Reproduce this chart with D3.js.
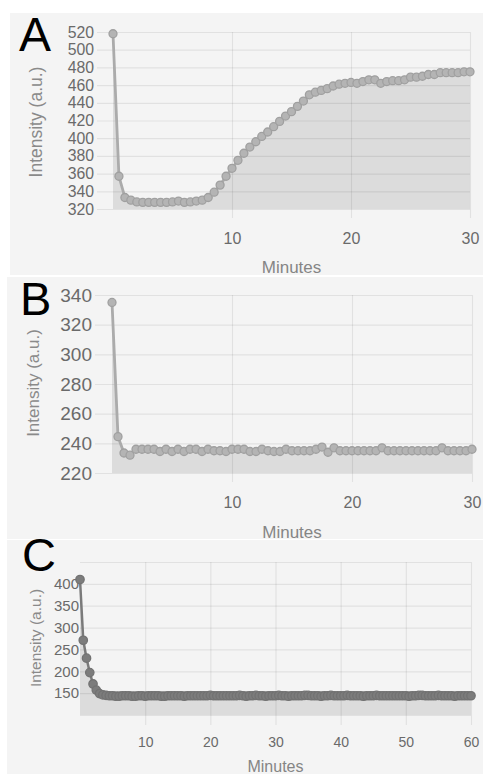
<!DOCTYPE html>
<html>
<head>
<meta charset="utf-8">
<script src="https://cdn.jsdelivr.net/npm/d3@7"></script>
<style>
  html, body { margin: 0; padding: 0; background: #ffffff; }
  svg { display: block; }
  .tick text { font-family: "Liberation Sans", Arial, sans-serif; }
</style>
</head>
<body>
<svg id="chart" width="483" height="776"></svg>
<script>
// ---------------- DATA ----------------
const sampleMinutes = 0.5; // sampling interval (minutes)

const panelLabels = ["A", "B", "C"];
const xAxisTitle = "Minutes";
const yAxisTitle = "Intensity (a.u.)";

// Panel A: intensity every 0.5 min, 0–30 min
const intensityA = [
  518, 357, 333, 330, 328, 327.5, 327.5, 327.5, 327.5, 327.5,
  328, 329, 327.5, 328, 329, 330, 333, 339, 347, 357,
  366, 375, 383, 390, 396, 402, 407, 413, 419, 425,
  430, 436, 442, 449, 452, 454, 456, 459, 461, 462,
  463, 462, 464, 466, 466, 462, 464, 465, 465, 466,
  469, 469, 470, 472, 472, 474, 474, 474, 474, 475,
  475
];
const yTicksA = [320, 340, 360, 380, 400, 420, 440, 460, 480, 500, 520];
const xTicksA = [10, 20, 30];

// Panel B: intensity every 0.5 min, 0–30 min
const intensityB = [
  335, 244.5, 233.5, 232, 236, 236, 236, 236, 234.5, 236,
  234.5, 236, 234.5, 236, 236, 234.5, 236, 235, 235, 234.5,
  236, 236, 236, 234.5, 234.5, 236, 235, 234.5, 234.5, 236,
  235, 235, 235, 235, 236, 237.5, 234, 237, 235, 235,
  235, 235, 235, 235, 235, 237, 235, 235, 235, 235,
  235, 235, 235, 235, 235, 237, 235, 235, 235, 235,
  236
];
const yTicksB = [220, 240, 260, 280, 300, 320, 340];
const xTicksB = [10, 20, 30];

// Panel C: intensity every 0.5 min, 0–60 min
const intensityC = [
  410, 271, 230, 197, 171, 157, 149, 146, 145, 144,
  144, 143, 143, 144, 144, 144, 143, 143, 144, 144,
  143, 144, 144, 144, 144, 143, 143, 144, 144, 144,
  144, 144, 143, 144, 144, 144, 144, 144, 144, 144,
  145, 144, 144, 144, 144, 144, 144, 144, 144, 145,
  144, 143, 144, 144, 145, 144, 144, 143, 144, 144,
  144, 145, 144, 144, 143, 144, 144, 144, 144, 145,
  145, 144, 144, 144, 143, 144, 144, 145, 144, 144,
  144, 144, 145, 144, 144, 144, 144, 143, 144, 144,
  144, 145, 144, 144, 144, 144, 144, 144, 144, 144,
  144, 143, 144, 144, 145, 145, 144, 144, 144, 144,
  145, 144, 144, 144, 144, 143, 144, 144, 144, 144,
  144
];
const yTicksC = [150, 200, 250, 300, 350, 400];
const yGridC = [100, 150, 200, 250, 300, 350, 400, 450];
const xTicksC = [10, 20, 30, 40, 50, 60];

// ---------------- DRAW ----------------
const svg = d3.select("#chart");
const FONT = "'Liberation Sans', Arial, Helvetica, sans-serif";

const panels = [
  { label: panelLabels[0], values: intensityA, xMax: 30, yDomain: [320, 520],
    yTicks: yTicksA, yGrid: yTicksA, xTicks: xTicksA,
    bg: [10, 13, 473, 262],
    plot: { l: 113, r: 470, t: 32, b: 209 },
    gridExtLeft: 16, yLabelPad: 3, yFont: 15.8,
    tickExt: 9, xPad: 15, xFont: 16,
    minutesY: 273, minutesFont: 17, titleX: 36, titleY: 122, titleFont: 17.5,
    letter: { x: 19, y: 51, size: 48 },
    line: "#ababab", lineW: 2.8, markFill: "#b4b4b4", markStroke: "#a0a0a0", r: 4 },
  { label: panelLabels[1], values: intensityB, xMax: 30, yDomain: [220, 340],
    yTicks: yTicksB, yGrid: yTicksB, xTicks: xTicksB,
    bg: [7, 277, 476, 262],
    plot: { l: 112, r: 472, t: 295, b: 473 },
    gridExtLeft: 17, yLabelPad: 3, yFont: 19,
    tickExt: 9, xPad: 15, xFont: 16,
    minutesY: 538, minutesFont: 17, titleX: 33, titleY: 383, titleFont: 17,
    letter: { x: 20, y: 315, size: 47 },
    line: "#ababab", lineW: 2.8, markFill: "#b4b4b4", markStroke: "#a0a0a0", r: 4 },
  { label: panelLabels[2], values: intensityC, xMax: 60, yDomain: [100, 450],
    yTicks: yTicksC, yGrid: yGridC, xTicks: xTicksC,
    bg: [7, 540, 476, 234],
    plot: { l: 80, r: 471, t: 562, b: 715 },
    gridExtLeft: 0, yLabelPad: 1, yFont: 15,
    tickExt: 10, xPad: 12, xFont: 14,
    minutesY: 772, minutesFont: 16, titleX: 36, titleY: 638, titleFont: 15.5,
    letter: { x: 22, y: 571, size: 47 },
    line: "#7a7a7a", lineW: 2.5, markFill: "#7c7c7c", markStroke: "#727272", r: 4.2 }
];

panels.forEach(p => {
  const g = svg.append("g");
  // panel background
  g.append("rect")
    .attr("x", p.bg[0]).attr("y", p.bg[1])
    .attr("width", p.bg[2]).attr("height", p.bg[3])
    .attr("fill", "#f4f4f4");

  const x = d3.scaleLinear().domain([0, p.xMax]).range([p.plot.l, p.plot.r]);
  const y = d3.scaleLinear().domain(p.yDomain).range([p.plot.b, p.plot.t]);
  const pts = p.values.map((v, i) => ({ t: i * sampleMinutes, v }));

  // area fill under the series
  const area = d3.area().x(d => x(d.t)).y0(y(p.yDomain[0])).y1(d => y(d.v));
  g.append("path").datum(pts).attr("d", area).attr("fill", "#dcdcdc");

  // horizontal grid + y tick labels
  const yAxis = d3.axisLeft(y)
    .tickValues(p.yGrid)
    .tickSize(-(p.plot.r - p.plot.l + p.gridExtLeft))
    .tickPadding(p.yLabelPad)
    .tickFormat(d => p.yTicks.includes(d) ? d3.format("d")(d) : "");
  const ya = g.append("g")
    .attr("transform", `translate(${p.plot.l - p.gridExtLeft},0)`)
    .call(yAxis);
  ya.select(".domain").remove();
  ya.selectAll(".tick line").attr("stroke", "rgba(0,0,0,0.075)").attr("stroke-width", 1.2);
  ya.selectAll(".tick text").attr("fill", "#6a6a6a").style("font-size", p.yFont + "px");

  // vertical grid + x tick labels
  const xAxis = d3.axisBottom(x)
    .tickValues(p.xTicks)
    .tickSize(-(p.plot.b - p.plot.t + p.tickExt))
    .tickPadding(p.xPad)
    .tickFormat(d3.format("d"));
  const xa = g.append("g")
    .attr("transform", `translate(0,${p.plot.b + p.tickExt})`)
    .call(xAxis);
  xa.select(".domain").remove();
  xa.selectAll(".tick line").attr("stroke", "rgba(0,0,0,0.075)").attr("stroke-width", 1.2);
  xa.selectAll(".tick text").attr("fill", "#6a6a6a").style("font-size", p.xFont + "px");

  // series line
  const line = d3.line().x(d => x(d.t)).y(d => y(d.v));
  g.append("path").datum(pts).attr("d", line)
    .attr("fill", "none").attr("stroke", p.line).attr("stroke-width", p.lineW)
    .attr("stroke-linejoin", "round");

  // markers
  g.append("g").selectAll("circle").data(pts).join("circle")
    .attr("cx", d => x(d.t)).attr("cy", d => y(d.v)).attr("r", p.r)
    .attr("fill", p.markFill).attr("stroke", p.markStroke).attr("stroke-width", 1.3);

  // axis titles
  g.append("text")
    .attr("x", (p.plot.l + p.plot.r) / 2).attr("y", p.minutesY)
    .attr("text-anchor", "middle")
    .attr("font-family", FONT)
    .attr("font-size", p.minutesFont).attr("fill", "#858585")
    .text(xAxisTitle);
  g.append("text")
    .attr("transform", `translate(${p.titleX},${p.titleY}) rotate(-90)`)
    .attr("text-anchor", "middle").attr("dy", "0.35em")
    .attr("font-family", FONT)
    .attr("font-size", p.titleFont).attr("fill", "#8a8a8a")
    .text(yAxisTitle);

  // panel letter
  g.append("text")
    .attr("x", p.letter.x).attr("y", p.letter.y)
    .attr("font-family", FONT)
    .attr("font-size", p.letter.size).attr("fill", "#000")
    .text(p.label);
});
</script>
</body>
</html>
